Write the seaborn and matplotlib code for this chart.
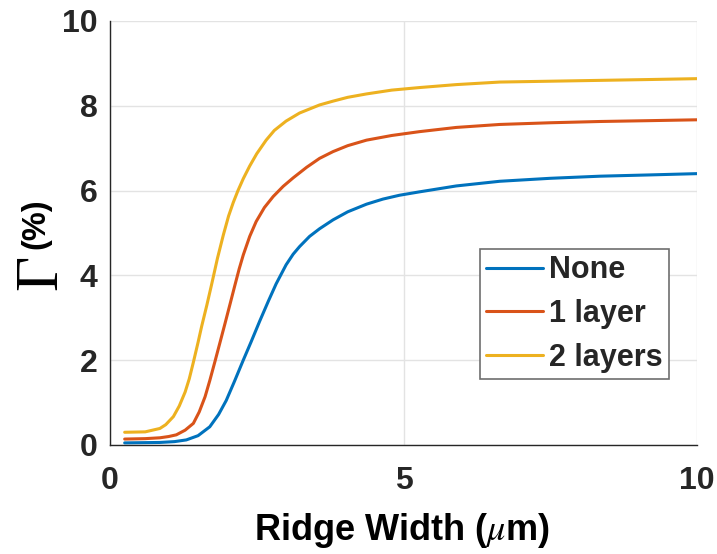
import matplotlib
matplotlib.use("Agg")
import matplotlib.pyplot as plt
import numpy as np
import pandas as pd
import seaborn as sns

# Confinement factor vs ridge width for three cladding configurations
labels = ["None", "1 layer", "2 layers"]
colors = ["#0072BD", "#D95319", "#EDB120"]

x_none = [0.25, 0.85, 1.10, 1.30, 1.50, 1.70, 1.85, 1.98, 2.12, 2.27, 2.40,
          2.55, 2.70, 2.83, 3.00, 3.12, 3.23, 3.40, 3.57, 3.80, 4.05, 4.37,
          4.65, 4.93, 5.27, 5.90, 6.64, 7.50, 8.35, 9.20, 10.0]
y_none = [0.05, 0.06, 0.08, 0.12, 0.22, 0.43, 0.72, 1.05, 1.50, 2.00, 2.42,
          2.92, 3.40, 3.80, 4.25, 4.50, 4.68, 4.92, 5.10, 5.31, 5.50, 5.68,
          5.80, 5.89, 5.97, 6.11, 6.22, 6.29, 6.34, 6.37, 6.40]

x_one = [0.25, 0.60, 0.85, 1.00, 1.13, 1.28, 1.42, 1.52, 1.62, 1.70, 1.79,
         1.88, 1.96, 2.05, 2.13, 2.20, 2.27, 2.38, 2.49, 2.63, 2.78, 2.95,
         3.12, 3.35, 3.57, 3.80, 4.05, 4.37, 4.80, 5.27, 5.90, 6.64, 7.50,
         8.35, 9.20, 10.0]
y_one = [0.14, 0.15, 0.17, 0.20, 0.24, 0.35, 0.51, 0.78, 1.14, 1.52, 1.98,
         2.45, 2.87, 3.35, 3.78, 4.15, 4.48, 4.92, 5.27, 5.60, 5.86, 6.10,
         6.30, 6.55, 6.76, 6.92, 7.06, 7.19, 7.30, 7.39, 7.49, 7.56, 7.60,
         7.63, 7.65, 7.67]

x_two = [0.25, 0.60, 0.85, 0.95, 1.08, 1.18, 1.28, 1.35, 1.42, 1.50, 1.56,
         1.65, 1.73, 1.83, 1.93, 2.02, 2.10, 2.18, 2.27, 2.38, 2.50, 2.66,
         2.80, 3.00, 3.23, 3.57, 3.80, 4.05, 4.37, 4.80, 5.27, 5.90, 6.64,
         7.50, 8.35, 9.20, 10.0]
y_two = [0.30, 0.31, 0.39, 0.48, 0.67, 0.92, 1.25, 1.56, 1.95, 2.42, 2.79,
         3.30, 3.78, 4.40, 4.95, 5.40, 5.72, 6.00, 6.28, 6.58, 6.87, 7.19,
         7.42, 7.64, 7.83, 8.02, 8.11, 8.20, 8.28, 8.37, 8.43, 8.50, 8.56,
         8.58, 8.60, 8.62, 8.64]

x_ticks = [0, 5, 10]
y_ticks = [0, 2, 4, 6, 8, 10]

df = pd.concat([
    pd.DataFrame({"w": x_none, "g": y_none, "series": labels[0]}),
    pd.DataFrame({"w": x_one, "g": y_one, "series": labels[1]}),
    pd.DataFrame({"w": x_two, "g": y_two, "series": labels[2]}),
], ignore_index=True)

sns.set_theme(style="white")
plt.rcParams["font.family"] = ["Liberation Sans", "DejaVu Sans"]
plt.rcParams["mathtext.fontset"] = "stix"

ink = "#262626"
fig = plt.figure(figsize=(7.17, 5.54), dpi=100)
ax = fig.add_axes([110 / 717, 1 - 445 / 554, 587 / 717, 424 / 554])

sns.lineplot(data=df, x="w", y="g", hue="series", hue_order=labels,
             palette=dict(zip(labels, colors)), estimator=None, sort=True,
             linewidth=2.2, ax=ax)
for line in ax.get_lines():
    line.set_solid_joinstyle("round")

ax.set_xlim(0, 10)
ax.set_ylim(0, 10)
ax.set_xticks(x_ticks)
ax.set_yticks(y_ticks)
ax.grid(True, color="#e3e3e3", linewidth=1.0)
ax.set_axisbelow(True)
for side in ("top", "right"):
    ax.spines[side].set_visible(False)
for side in ("left", "bottom"):
    ax.spines[side].set_color(ink)
    ax.spines[side].set_linewidth(1.0)

ax.tick_params(axis="both", direction="in", length=4.5, width=1.0,
               colors=ink, labelsize=23)
ax.tick_params(axis="x", pad=15)
ax.tick_params(axis="y", pad=9)
for lab in ax.get_xticklabels() + ax.get_yticklabels():
    lab.set_fontweight("bold")

ax.set_xlabel("")
ax.set_ylabel("")
fig.text(402 / 717, 1 - 531 / 554, r"Ridge Width ($\mu$m)", ha="center",
         va="center", fontsize=26, fontweight="bold", color="black")
fig.text(42 / 717, 1 - 272 / 554, "Γ", family="Liberation Serif",
         fontsize=44, rotation=90, ha="center", va="center", color="black")
fig.text(36 / 717, 1 - 224 / 554, "(%)", fontsize=23.5, fontweight="bold",
         rotation=90, ha="center", va="center", color="black")

leg = ax.legend(loc="lower right", bbox_to_anchor=(0.952, 0.156),
                frameon=True, fancybox=False, edgecolor="#6e6e6e",
                prop={"weight": "bold", "size": 22}, handlelength=1.85,
                handletextpad=0.2, labelspacing=0.45, borderpad=0.2,
                borderaxespad=0.0, framealpha=1.0)
leg.get_frame().set_linewidth(1.2)
for line in leg.get_lines():
    line.set_linewidth(2.2)

fig.savefig("out.png", dpi=100)
